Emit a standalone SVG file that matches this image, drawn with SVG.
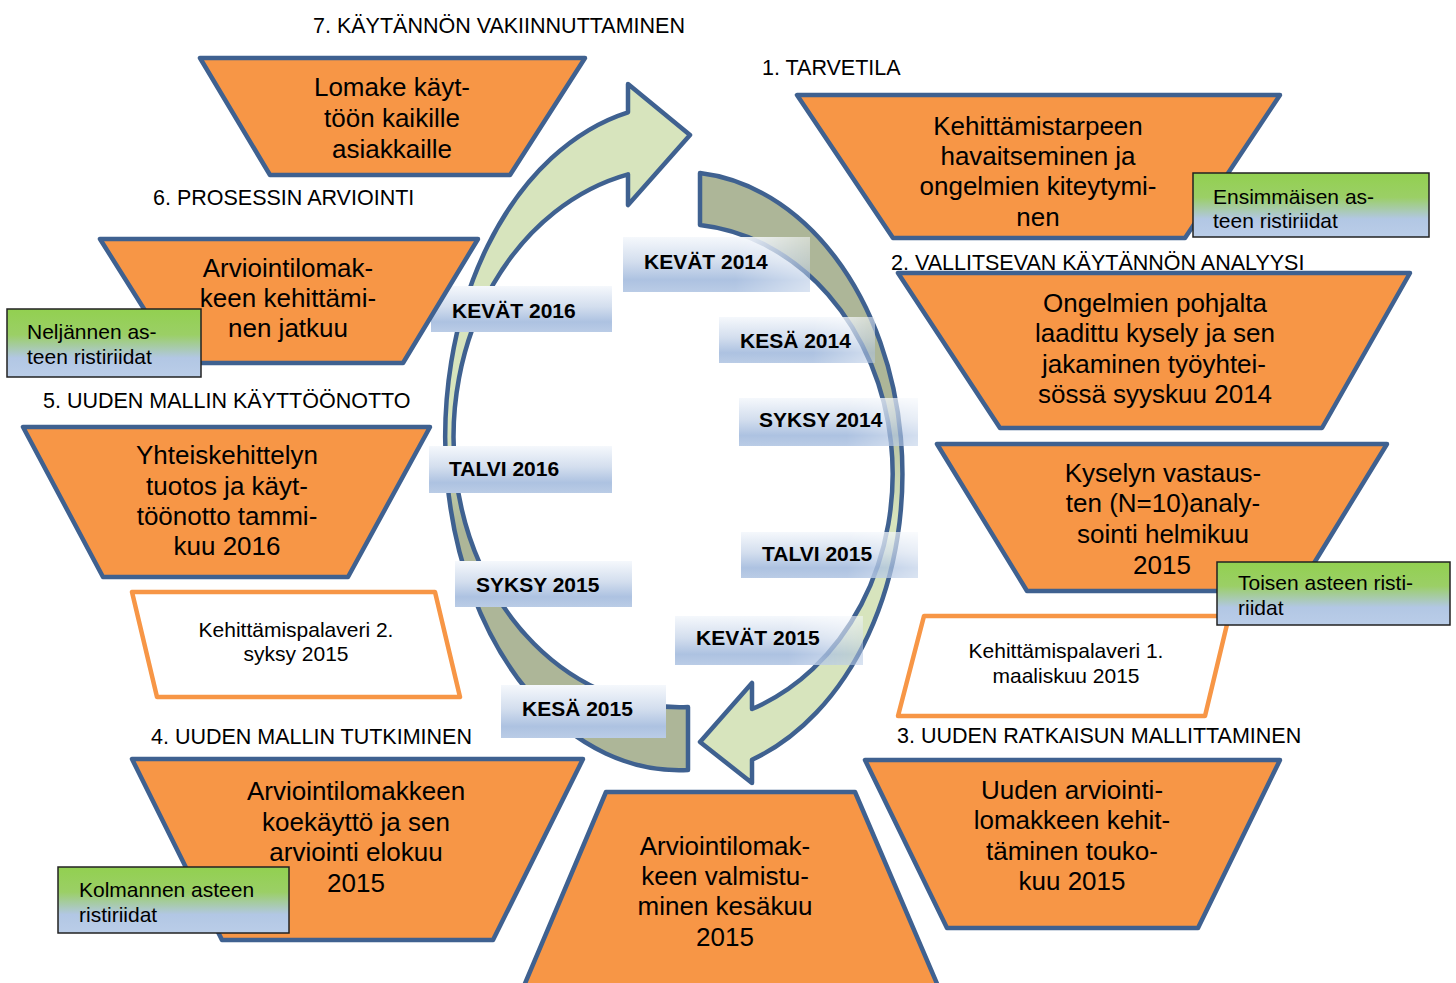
<svg xmlns="http://www.w3.org/2000/svg" width="1456" height="983" viewBox="0 0 1456 983">
<style>
.t{font-family:"Liberation Sans",Arial,sans-serif;fill:#000}
.tt{font-size:26px;text-anchor:middle}
.hd{font-size:21.5px}
.gt{font-size:21px}
.pt{font-size:21px;text-anchor:middle}
.st{font-size:21px;font-weight:bold}
.trap{fill:#f79646;stroke:#3f6190;stroke-width:4.5;stroke-linejoin:round}
.arrow{stroke:#3f6190;stroke-width:4.5;stroke-linejoin:round}
.pal{fill:#fff;stroke:#f79646;stroke-width:4.5;stroke-linejoin:round}
.green{fill:url(#greenGrad);stroke:#222;stroke-width:1.5}
.lbl{fill:url(#lblGrad)}
</style>
<defs>
<linearGradient id="lblGrad" x1="0" y1="0" x2="0" y2="1">
<stop offset="0" stop-color="#f5f8fc"/>
<stop offset="0.45" stop-color="#d3deee"/>
<stop offset="0.78" stop-color="#adc2e1"/>
<stop offset="1" stop-color="#bacce6"/>
</linearGradient>
<linearGradient id="fadeH" x1="0" y1="0" x2="1" y2="0">
<stop offset="0" stop-color="#fff"/>
<stop offset="0.6" stop-color="#fff"/>
<stop offset="1" stop-color="#888"/>
</linearGradient>
<mask id="fadeMask" maskContentUnits="objectBoundingBox">
<rect x="0" y="0" width="1" height="1" fill="url(#fadeH)"/>
</mask>
<linearGradient id="greenGrad" x1="0" y1="0" x2="0" y2="1">
<stop offset="0" stop-color="#92d050"/>
<stop offset="0.38" stop-color="#9bcf66"/>
<stop offset="0.72" stop-color="#b2c7e4"/>
<stop offset="1" stop-color="#bacde8"/>
</linearGradient>
<linearGradient id="leftArrowGrad" gradientUnits="userSpaceOnUse" x1="0" y1="84" x2="0" y2="770">
<stop offset="0" stop-color="#d7e4bd"/>
<stop offset="0.5" stop-color="#d7e4bd"/>
<stop offset="0.65" stop-color="#adb698"/>
<stop offset="1" stop-color="#adb698"/>
</linearGradient>
<linearGradient id="rightArrowGrad" gradientUnits="userSpaceOnUse" x1="0" y1="172" x2="0" y2="784">
<stop offset="0" stop-color="#adb698"/>
<stop offset="0.37" stop-color="#adb698"/>
<stop offset="0.57" stop-color="#d7e4bd"/>
<stop offset="1" stop-color="#d7e4bd"/>
</linearGradient>
</defs>
<rect x="0" y="0" width="1456" height="983" fill="#fff"/>

<g id="connectors">
<path id="arrow-left" class="arrow" fill="url(#leftArrowGrad)" d="M688,770 A234,333 0 0 1 628,112.3 L628,84 L690,135 L628,205 L628,174.3 A226,270 0 0 0 688,707 Z"/>
<path id="arrow-right" class="arrow" fill="url(#rightArrowGrad)" d="M700,173 A222,302 0 0 1 752,759.7 L752,783 L700,742 L752,683 L752,709 A213,250 0 0 0 700,225 Z"/>
</g>

<g id="season-kevat2014"><rect class="lbl" mask="url(#fadeMask)" x="623" y="237" width="187" height="55"/><text class="t st" x="644" y="269">KEVÄT 2014</text></g>
<g id="season-kesa2014"><rect class="lbl" mask="url(#fadeMask)" x="719" y="317" width="156" height="46"/><text class="t st" x="740" y="348">KESÄ 2014</text></g>
<g id="season-syksy2014"><rect class="lbl" mask="url(#fadeMask)" x="739" y="398" width="179" height="48"/><text class="t st" x="759" y="427">SYKSY 2014</text></g>
<g id="season-talvi2015"><rect class="lbl" mask="url(#fadeMask)" x="741" y="532" width="177" height="46"/><text class="t st" x="762" y="561">TALVI 2015</text></g>
<g id="season-kevat2015"><rect class="lbl" mask="url(#fadeMask)" x="675" y="616" width="188" height="49"/><text class="t st" x="696" y="645">KEVÄT 2015</text></g>
<g id="season-kesa2015"><rect class="lbl" x="501" y="685" width="165" height="53"/><text class="t st" x="522" y="716">KESÄ 2015</text></g>
<g id="season-syksy2015"><rect class="lbl" x="455" y="561" width="177" height="46"/><text class="t st" x="476" y="592">SYKSY 2015</text></g>
<g id="season-talvi2016"><rect class="lbl" x="429" y="446" width="183" height="47"/><text class="t st" x="449" y="476">TALVI 2016</text></g>
<g id="season-kevat2016"><rect class="lbl" x="431" y="286" width="181" height="46"/><text class="t st" x="452" y="318">KEVÄT 2016</text></g>

<g id="node-7">
<text class="t hd" x="313" y="33">7. KÄYTÄNNÖN VAKIINNUTTAMINEN</text>
<polygon class="trap" points="200,58 585,58 510,175 270,175"/>
<text class="t tt" x="392" y="96">Lomake käyt-</text>
<text class="t tt" x="392" y="127">töön kaikille</text>
<text class="t tt" x="392" y="158">asiakkaille</text>
</g>

<g id="node-1">
<text class="t hd" x="762" y="75">1. TARVETILA</text>
<polygon class="trap" points="797,95 1280,95 1185,238 893,238"/>
<text class="t tt" x="1038" y="135">Kehittämistarpeen</text>
<text class="t tt" x="1038" y="165">havaitseminen ja</text>
<text class="t tt" x="1038" y="195">ongelmien kiteytymi-</text>
<text class="t tt" x="1038" y="226">nen</text>
</g>

<g id="node-6">
<text class="t hd" x="153" y="205">6. PROSESSIN ARVIOINTI</text>
<polygon class="trap" points="100,239 478,239 403,363 178,363"/>
<text class="t tt" x="288" y="277">Arviointilomak-</text>
<text class="t tt" x="288" y="307">keen kehittämi-</text>
<text class="t tt" x="288" y="337">nen jatkuu</text>
</g>

<g id="node-2">
<text class="t hd" x="891" y="270">2. VALLITSEVAN KÄYTÄNNÖN ANALYYSI</text>
<polygon class="trap" points="898,273 1410,273 1322,428 1000,428"/>
<text class="t tt" x="1155" y="312">Ongelmien pohjalta</text>
<text class="t tt" x="1155" y="342">laadittu kysely ja sen</text>
<text class="t tt" x="1154" y="373">jakaminen työyhtei-</text>
<text class="t tt" x="1155" y="403">sössä syyskuu 2014</text>
</g>

<g id="node-5">
<text class="t hd" x="43" y="408">5. UUDEN MALLIN KÄYTTÖÖNOTTO</text>
<polygon class="trap" points="23,427 430,427 348,577 103,577"/>
<text class="t tt" x="227" y="464">Yhteiskehittelyn</text>
<text class="t tt" x="227" y="495">tuotos ja käyt-</text>
<text class="t tt" x="227" y="525">töönotto tammi-</text>
<text class="t tt" x="227" y="555">kuu 2016</text>
</g>

<g id="node-2b">
<polygon class="trap" points="937,444 1387,444 1297,591 1027,591"/>
<text class="t tt" x="1163" y="482">Kyselyn vastaus-</text>
<text class="t tt" x="1163" y="512">ten (N=10)analy-</text>
<text class="t tt" x="1163" y="543">sointi helmikuu</text>
<text class="t tt" x="1162" y="574">2015</text>
</g>

<g id="node-4">
<text class="t hd" x="151" y="744">4. UUDEN MALLIN TUTKIMINEN</text>
<polygon class="trap" points="132,759 583,759 493,940 222,940"/>
<text class="t tt" x="356" y="800">Arviointilomakkeen</text>
<text class="t tt" x="356" y="831">koekäyttö ja sen</text>
<text class="t tt" x="356" y="861">arviointi elokuu</text>
<text class="t tt" x="356" y="892">2015</text>
</g>

<g id="node-center">
<polygon class="trap" points="606,792 855,792 944,1000 518,1000"/>
<text class="t tt" x="725" y="855">Arviointilomak-</text>
<text class="t tt" x="725" y="885">keen valmistu-</text>
<text class="t tt" x="725" y="915">minen kesäkuu</text>
<text class="t tt" x="725" y="946">2015</text>
</g>

<g id="node-3">
<text class="t hd" x="897" y="743">3. UUDEN RATKAISUN MALLITTAMINEN</text>
<polygon class="trap" points="865,760 1280,760 1198,928 947,928"/>
<text class="t tt" x="1072" y="799">Uuden arviointi-</text>
<text class="t tt" x="1072" y="829">lomakkeen kehit-</text>
<text class="t tt" x="1072" y="860">täminen touko-</text>
<text class="t tt" x="1072" y="890">kuu 2015</text>
</g>

<g id="palaveri-1">
<polygon class="pal" points="924,616 1229,616 1205,716 898,716"/>
<text class="t pt" x="1066" y="658">Kehittämispalaveri 1.</text>
<text class="t pt" x="1066" y="683">maaliskuu 2015</text>
</g>

<g id="palaveri-2">
<polygon class="pal" points="132,592 435,592 460,697 157,697"/>
<text class="t pt" x="296" y="637">Kehittämispalaveri 2.</text>
<text class="t pt" x="296" y="661">syksy 2015</text>
</g>

<g id="ristiriidat-1">
<rect class="green" x="1193" y="173" width="236" height="64"/>
<text class="t gt" x="1213" y="204">Ensimmäisen as-</text>
<text class="t gt" x="1213" y="228">teen ristiriidat</text>
</g>

<g id="ristiriidat-2">
<rect class="green" x="1217" y="562" width="233" height="63"/>
<text class="t gt" x="1238" y="590">Toisen asteen risti-</text>
<text class="t gt" x="1238" y="615">riidat</text>
</g>

<g id="ristiriidat-3">
<rect class="green" x="58" y="867" width="231" height="66"/>
<text class="t gt" x="79" y="897">Kolmannen asteen</text>
<text class="t gt" x="79" y="922">ristiriidat</text>
</g>

<g id="ristiriidat-4">
<rect class="green" x="7" y="309" width="194" height="68"/>
<text class="t gt" x="27" y="339">Neljännen as-</text>
<text class="t gt" x="27" y="364">teen ristiriidat</text>
</g>
</svg>
